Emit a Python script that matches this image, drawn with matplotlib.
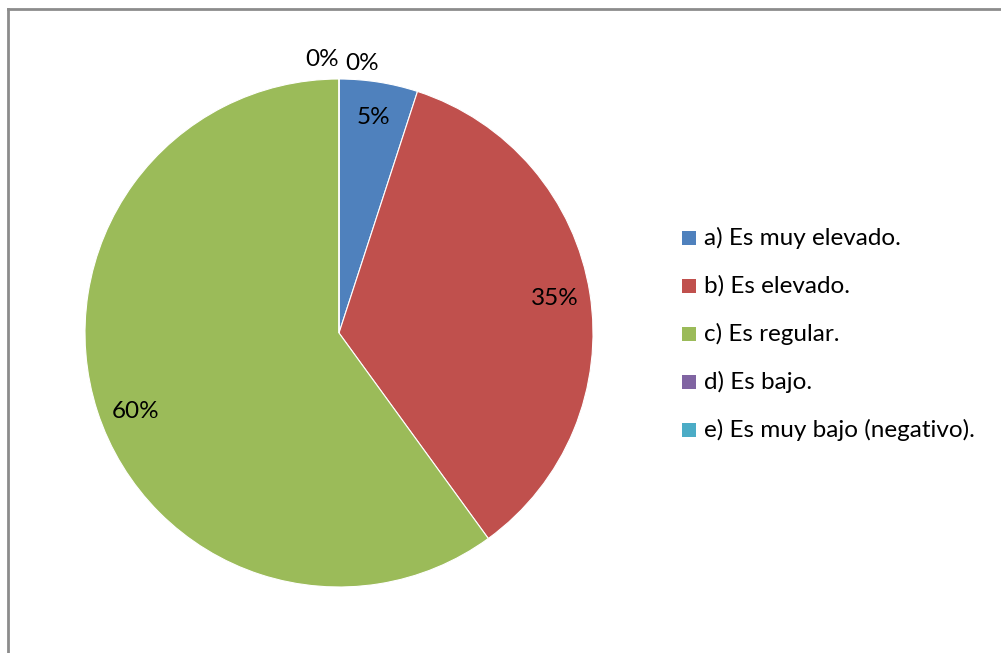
import matplotlib
matplotlib.use("Agg")
import matplotlib.pyplot as plt
from matplotlib.lines import Line2D
from matplotlib.patches import Rectangle
import numpy as np

plt.rcParams['font.family'] = ['Lato', 'DejaVu Sans']

categories = ["a) Es muy elevado.", "b) Es elevado.", "c) Es regular.",
              "d) Es bajo.", "e) Es muy bajo (negativo)."]
values = [5, 35, 60, 0, 0]
colors = ["#4F81BD", "#C0504D", "#9BBB59", "#8064A2", "#4BACC6"]

W, H = 1001, 653
FS = 17.5
fig = plt.figure(figsize=(W / 100, H / 100), dpi=100)
fig.patch.set_facecolor("white")

# pie area (pixel geometry converted to figure fractions)
cx, cy, r = 339, 333, 254
ax = fig.add_axes([(cx - r) / W, (H - cy - r) / H, 2 * r / W, 2 * r / H])
wedges, _ = ax.pie(values, colors=colors, startangle=90, counterclock=False,
                   radius=1, wedgeprops=dict(edgecolor="white", linewidth=0.8))
ax.set_xlim(-1, 1)
ax.set_ylim(-1, 1)
ax.set_aspect("equal")
ax.axis("off")

# percentage labels
total = sum(values)
start = 90.0
zero_offsets = [(-0.065, 1.075), (0.09, 1.06)]
angle_shift = {2: 3.0}
zi = 0
for i, v in enumerate(values):
    sweep = 360.0 * v / total
    mid = np.deg2rad(start - sweep / 2 + angle_shift.get(i, 0.0))
    txt = f"{round(100 * v / total)}%"
    if v > 0:
        d = 0.86
        ax.text(d * np.cos(mid), d * np.sin(mid), txt, ha="center", va="center",
                fontsize=FS, color="black")
    else:
        dx, dy = zero_offsets[zi]
        zi += 1
        ax.text(np.cos(mid) + dx, dy, txt, ha="center", va="center",
                fontsize=FS, color="black", clip_on=False)
    start -= sweep

# legend
lx, ly0, dy_leg = 682, 238, 48
for i, (lab, col) in enumerate(zip(categories, colors)):
    y = ly0 + i * dy_leg
    fig.patches.append(Rectangle((lx / W, 1 - (y + 7) / H), 14 / W, 14 / H,
                                 transform=fig.transFigure, facecolor=col,
                                 edgecolor="none"))
    fig.text(704 / W, 1 - y / H, lab, ha="left", va="center", fontsize=FS,
             color="black")

# chart frame
frame = dict(color="#8C8C8C", linewidth=2, transform=fig.transFigure)
fig.lines.append(Line2D([8 / W, 8 / W], [0, 1 - 9 / H], **frame))
fig.lines.append(Line2D([8 / W, 1], [1 - 9 / H, 1 - 9 / H], **frame))

fig.savefig("out.png", dpi=100, facecolor="white")
